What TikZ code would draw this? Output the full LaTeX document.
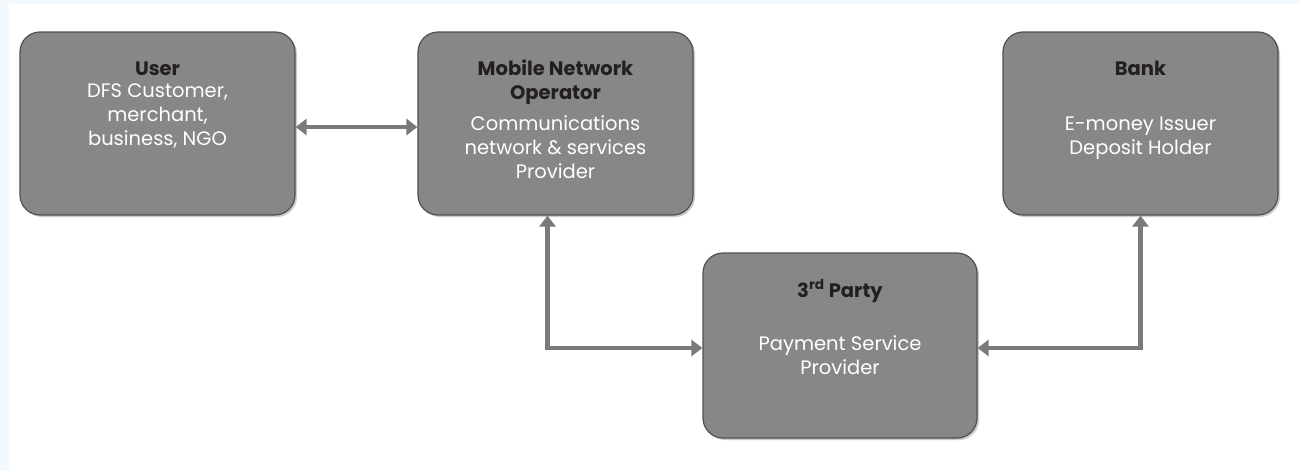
\documentclass[tikz,border=0pt]{standalone}
\usepackage{fontspec}
\setmainfont{Poppins}
\usepackage{tikz}
\usetikzlibrary{positioning,shadows,arrows.meta}
\definecolor{boxgray}{RGB}{135,135,135}
\definecolor{boxedge}{RGB}{80,80,80}
\definecolor{linkgray}{RGB}{122,122,124}
\definecolor{titledark}{RGB}{35,31,32}
\definecolor{bgblue}{RGB}{243,249,252}

\begin{document}
\begin{tikzpicture}[
  x=1pt, y=-1pt,
  actor/.style={draw=boxedge, line width=1.2pt, fill=boxgray, rounded corners=20pt,
    minimum width=275pt, minimum height=183pt,
    drop shadow={shadow xshift=2pt, shadow yshift=-2pt, opacity=0.4}},
  actortext/.style={align=center, text=white, font=\fontsize{19.5}{24}\selectfont, inner sep=0pt},
  link/.style={draw=linkgray, line width=4.5pt, {Triangle[width=16pt,length=11pt]}-{Triangle[width=16pt,length=11pt]}},
]
\useasboundingbox (0,0) rectangle (1299,471);
\fill[bgblue] (0,0) rectangle (1299,471);
\fill[white] (9,4) rectangle (1299,471);

\node[actor] (user) at (157.5,123.5) {};
\node[actor] (mno) at (555.5,123.5) {};
\node[actor] (bank) at (1140.5,123.5) {};
\node[actor, minimum width=274pt, minimum height=185pt] (party) at (840,345.5) {};

\node[actortext, below=30pt of user.north] (usertxt)
  {\textcolor{titledark}{\bfseries User}\\[-2pt]
   DFS Customer,\\ merchant,\\ business, NGO};
\node[actortext, below=28pt of mno.north] (mnotxt)
  {\textcolor{titledark}{\bfseries Mobile Network}\\
   \textcolor{titledark}{\bfseries Operator}\\[7pt]
   Communications\\ network \& services\\ Provider};
\node[actortext, below=29pt of bank.north] (banktxt)
  {\textcolor{titledark}{\bfseries Bank}\\[31pt]
   E-money Issuer\\ Deposit Holder};
\node[actortext, below=27pt of party.north] (partytxt)
  {\textcolor{titledark}{\bfseries 3\textsuperscript{rd} Party}\\[29pt]
   Payment Service\\ Provider};

\draw[link] ([yshift=-3.5pt]user.east) -- ([yshift=-3.5pt]mno.west);
\draw[link] ([xshift=-8pt]mno.south) |- ([yshift=-2.5pt]party.west);
\draw[link] (bank.south) |- ([yshift=-2.5pt]party.east);
\end{tikzpicture}
\end{document}
